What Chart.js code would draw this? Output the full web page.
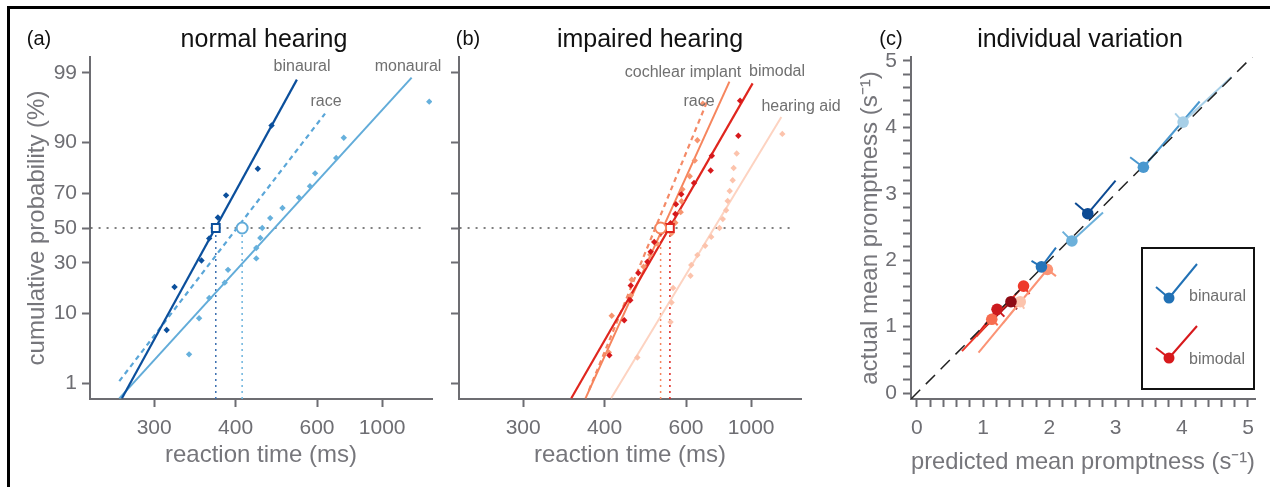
<!DOCTYPE html>
<html><head><meta charset="utf-8">
<script src="https://cdn.jsdelivr.net/npm/chart.js@4.4.1/dist/chart.umd.min.js"></script>
<style>
html,body{margin:0;padding:0;background:#fff;width:1270px;height:487px;overflow:hidden;font-family:"Liberation Sans",Arial,sans-serif;}
#frame{position:absolute;left:7px;top:6px;width:1300px;height:600px;border-left:3px solid #000;border-top:3px solid #000;box-sizing:border-box;}
canvas{position:absolute;left:0;top:0;}
.t{position:absolute;white-space:nowrap;line-height:1;transform:translate(-50%,-50%);}
.pl{font-size:20px;color:#111;}
.ti{font-size:25px;color:#111;}
.lb{font-size:16px;color:#707070;}
#legbox{position:absolute;left:1141px;top:247px;width:114px;height:143px;border:2.5px solid #111;box-sizing:border-box;}
.lt{position:absolute;font-size:16px;color:#6f6f6f;white-space:nowrap;line-height:1;transform:translateY(-50%);}
</style>
</head><body>
<div id="frame"></div>
<canvas id="ca" width="1270" height="487"></canvas>
<canvas id="cb" width="1270" height="487"></canvas>
<canvas id="cc" width="1270" height="487"></canvas>

<div class="t pl" style="left:39px;top:38px">(a)</div>
<div class="t ti" style="left:264px;top:38px">normal hearing</div>
<div class="t pl" style="left:468px;top:38px">(b)</div>
<div class="t ti" style="left:650px;top:38px">impaired hearing</div>
<div class="t pl" style="left:891px;top:38px">(c)</div>
<div class="t ti" style="left:1080px;top:38px">individual variation</div>

<div class="t lb" style="left:302px;top:66px">binaural</div>
<div class="t lb" style="left:408px;top:66px">monaural</div>
<div class="t lb" style="left:326px;top:101px">race</div>
<div class="t lb" style="left:683px;top:72px">cochlear implant</div>
<div class="t lb" style="left:777px;top:71px">bimodal</div>
<div class="t lb" style="left:699px;top:101px">race</div>
<div class="t lb" style="left:801px;top:106px">hearing aid</div>

<div id="legbox"></div>
<svg width="1270" height="487" style="position:absolute;left:0;top:0;pointer-events:none">
  <line x1="1169" y1="298" x2="1156" y2="287" stroke="#2171b5" stroke-width="2"/>
  <line x1="1169" y1="298" x2="1197" y2="264" stroke="#2171b5" stroke-width="2"/>
  <circle cx="1169" cy="298" r="5.5" fill="#2171b5"/>
  <line x1="1169" y1="358" x2="1156" y2="348" stroke="#d7191c" stroke-width="2"/>
  <line x1="1169" y1="358" x2="1197" y2="326" stroke="#d7191c" stroke-width="2"/>
  <circle cx="1169" cy="358" r="5.5" fill="#d7191c"/>
</svg>
<div class="lt" style="left:1189px;top:296px">binaural</div>
<div class="lt" style="left:1189px;top:359px">bimodal</div>

<script>
// ---------------- DATA ----------------
// tick labels
const rtTicks = [300, 400, 600, 1000];            // ms
const pctTicks = [1, 10, 30, 50, 70, 90, 99];       // %
const promptTicks = [0, 0.2, 0.4, 0.6, 0.8, 1, 1.2, 1.4, 1.6, 1.8, 2, 2.2, 2.4, 2.6, 2.8, 3, 3.2, 3.4, 3.6, 3.8, 4, 4.2, 4.4, 4.6, 4.8, 5];

// (a) normal hearing: reaction times (ms) and cumulative probabilities (%)
const binauralRT  = [312, 320, 351, 361, 373, 385, 440, 469];
const binauralPct = [6.3, 18.8, 31.3, 43.8, 56.3, 68.8, 81.3, 93.8];
const monauralRT  = [336, 348, 361, 383, 388, 437, 437, 445, 449, 466, 495, 540, 575, 593, 680, 718, 1930];
const monauralPct = [2.9, 8.8, 14.7, 20.6, 26.5, 32.4, 38.2, 44.1, 50, 55.9, 61.8, 67.6, 73.5, 79.4, 85.3, 91.2, 97.1];
const binauralFitRT = [273, 534],  binauralFitPct = [0.53, 98.7];
const monauralFitRT = [271, 1432], monauralFitPct = [0.53, 98.8];
const raceA_RT = [271, 631],       raceA_Pct = [1.08, 95.7];
const binauralMedianRT = 370, raceAMedianRT = 411;

// (b) impaired hearing
const bimodalRT  = [408, 435, 447, 448, 464, 485, 493, 502, 520, 548, 563, 565, 583, 631, 707, 713, 884, 898];
const bimodalPct = [2.8, 8.3, 13.9, 19.4, 25.0, 30.6, 36.1, 41.7, 47.2, 52.8, 58.3, 63.9, 69.4, 75.0, 80.6, 86.1, 91.7, 97.2];
const ciRT  = [407, 412, 448, 450, 476, 492, 510, 551, 563, 581, 584, 587, 614, 634, 645, 669];
const ciPct = [3.1, 9.4, 15.6, 21.9, 28.1, 34.4, 40.6, 46.9, 53.1, 59.4, 65.6, 71.9, 78.1, 84.4, 90.6, 96.9];
const haRT  = [462, 548, 551, 556, 617, 620, 645, 680, 710, 755, 775, 796, 806, 820, 841, 848, 871, 1468];
const haPct = [2.6, 7.9, 13.2, 18.4, 23.7, 28.9, 34.2, 39.5, 44.7, 50, 55.3, 60.5, 65.8, 71.1, 76.3, 81.6, 86.8, 92.1];
const bimodalFitRT = [352, 1015], bimodalFitPct = [0.53, 98.5];
const ciFitRT = [371, 818],       ciFitPct = [0.53, 98.6];
const raceB_RT = [376, 693],      raceB_Pct = [0.75, 97.3];
const haFitRT = [411, 1447],      haFitPct = [0.53, 95.2];
const bimodalMedianRT = 546, raceBMedianRT = 519;
const refRT = [251, 1800], refPct = 50;

// (c) individual variation: predicted vs actual mean promptness (1/s)
const cPredicted = [4.02, 3.42, 2.58, 2.34, 1.88, 1.97, 1.61, 1.42, 1.56, 1.21, 1.13];
const cActual    = [4.08, 3.40, 2.70, 2.29, 1.90, 1.86, 1.61, 1.375, 1.375, 1.26, 1.11];
const cArmX      = [3.90, 3.22, 2.39, 2.20, 1.73, 2.10, 1.70, 1.51, 1.62, 1.32, 1.22];
const cArmY      = [4.21, 3.55, 2.86, 2.43, 1.99, 1.76, 1.49, 1.26, 1.27, 1.15, 1.02];
const cLineX     = [4.75, 4.27, 3.00, 2.81, 2.10, 0.93, 0.68, 0.83, 1.30, 0.95, 0.90];
const cLineY     = [4.76, 4.39, 3.20, 2.72, 2.19, 0.61, 0.63, 0.80, 1.05, 0.93, 0.85];
const diagonal   = [-0.09, 5.12];

// ---------------- STYLE ----------------
const cColors = ['#a7cfe7', '#4a98cf', '#0c4a93', '#6cb0da', '#2474ba', '#fb9375', '#ee3a2b', '#8e0b14', '#fcc4ad', '#cc1a1e', '#f76c4f'];
const AX = '#6d6d72', TXT = '#6e6e73', TITLE = '#76767b';
Chart.defaults.font.family = '"Liberation Sans", Arial, sans-serif';
Chart.defaults.animation = false;

// ---------------- HELPERS ----------------
function probit(p){
  const a=[-3.969683028665376e+01,2.209460984245205e+02,-2.759285104469687e+02,1.383577518672690e+02,-3.066479806614716e+01,2.506628277459239e+00];
  const b=[-5.447609879822406e+01,1.615858368580409e+02,-1.556989798598866e+02,6.680131188771972e+01,-1.328068155288572e+01];
  const c=[-7.784894002430293e-03,-3.223964580411365e-01,-2.400758277161838e+00,-2.549732539343734e+00,4.374664141464968e+00,2.938163982698783e+00];
  const d=[7.784695709041462e-03,3.224671290700398e-01,2.445134137142996e+00,3.754408661907416e+00];
  const pl=0.02425, ph=1-pl; let q,r;
  if(p<pl){q=Math.sqrt(-2*Math.log(p));return (((((c[0]*q+c[1])*q+c[2])*q+c[3])*q+c[4])*q+c[5])/((((d[0]*q+d[1])*q+d[2])*q+d[3])*q+1);}
  if(p<=ph){q=p-0.5;r=q*q;return (((((a[0]*r+a[1])*r+a[2])*r+a[3])*r+a[4])*r+a[5])*q/(((((b[0]*r+b[1])*r+b[2])*r+b[3])*r+b[4])*r+1);}
  q=Math.sqrt(-2*Math.log(1-p));return -(((((c[0]*q+c[1])*q+c[2])*q+c[3])*q+c[4])*q+c[5])/((((d[0]*q+d[1])*q+d[2])*q+d[3])*q+1);
}
const tx = rt => -1000/rt;          // reciprocal (promptness) axis
const ty = pct => probit(pct/100);  // probit axis
const Y_LIM = 2.566, X_MIN = -3.99, X_MAX = -0.49;
const pts = (rts, pcts) => rts.map((r,i)=>({x:tx(r), y:ty(Array.isArray(pcts)?pcts[i]:pcts)}));

function scat(data, color, order){
  return {data, showLine:false, pointStyle:'rectRot', pointRadius:3.2, pointBorderWidth:0, pointBackgroundColor:color, borderColor:color, order};
}
function ln(data, color, width, dash, order){
  return {data, showLine:true, pointRadius:0, borderColor:color, borderWidth:width, borderDash:dash||[], fill:false, order, tension:0};
}
function marker(data, color, style, order){
  return {data, showLine:false, pointStyle:style, pointRadius:5.5, pointBorderWidth:2, pointBackgroundColor:'#fff', pointBorderColor:color, order};
}
const gridOpts = {display:true, drawOnChartArea:false, drawTicks:true, tickLength:8, tickColor:AX, tickWidth:2};
const borderOpts = {display:true, color:AX, width:2};

function rtScale(){
  return {
    type:'linear', min:X_MIN, max:X_MAX,
    afterBuildTicks: s => { s.ticks = rtTicks.map(v=>({value:tx(v)})); },
    ticks:{autoSkip:false, maxRotation:0, padding:9, color:TXT, font:{size:21}, callback:(v,i)=>rtTicks[i]},
    grid:gridOpts, border:borderOpts,
    title:{display:true, text:'reaction time (ms)', color:TITLE, font:{size:24}, padding:{top:0,bottom:17}},
    afterFit: s => { s.height = 88; }
  };
}
function pScale(labels, width, titlePad){
  return {
    type:'linear', min:-Y_LIM, max:Y_LIM,
    afterBuildTicks: s => { s.ticks = pctTicks.map(v=>({value:ty(v)})); },
    ticks:{autoSkip:false, padding:5, color:TXT, font:{size:21}, callback:(v,i)=> labels ? pctTicks[i] : ''},
    grid:gridOpts, border:borderOpts,
    title:{display:labels, text:'cumulative probability (%)', color:TITLE, font:{size:24}, padding:{top:titlePad,bottom:0}},
    afterFit: s => { s.width = width; }
  };
}
const baseOpts = (pad, scales) => ({
  responsive:false, animation:false,
  layout:{padding:pad, autoPadding:false},
  plugins:{legend:{display:false}, tooltip:{enabled:false}},
  scales
});

// ---------------- PANEL (a) ----------------
new Chart(document.getElementById('ca'), {
  type:'scatter',
  data:{datasets:[
    marker([{x:tx(binauralMedianRT), y:ty(50)}], '#0b4f9c', 'rect', 0),
    marker([{x:tx(raceAMedianRT), y:ty(50)}], '#62acd9', 'circle', 0),
    scat(pts(binauralRT, binauralPct), '#0b4f9c', 1),
    scat(pts(monauralRT, monauralPct), '#66b0dc', 1),
    ln(pts(binauralFitRT, binauralFitPct), '#0b4f9c', 2.2, [], 2),
    ln(pts(monauralFitRT, monauralFitPct), '#62acd9', 2, [], 2),
    ln(pts(raceA_RT, raceA_Pct), '#5aa6d8', 2.2, [5,4], 2),
    ln([{x:tx(binauralMedianRT), y:-Y_LIM},{x:tx(binauralMedianRT), y:ty(50)}], '#3a6fb0', 1.5, [2,4], 3),
    ln([{x:tx(raceAMedianRT), y:-Y_LIM},{x:tx(raceAMedianRT), y:ty(50)}], '#6cb4de', 1.5, [2,4], 3),
    ln(pts(refRT, refPct), '#555', 1.5, [2,6], 3)
  ]},
  options: baseOpts({left:0, right:1270-432, top:57, bottom:0}, {
    x: rtScale(), y: pScale(true, 90, 22.6)
  })
});

// ---------------- PANEL (b) ----------------
new Chart(document.getElementById('cb'), {
  type:'scatter',
  data:{datasets:[
    marker([{x:tx(raceBMedianRT), y:ty(50)}], '#f6855d', 'circle', 0),
    marker([{x:tx(bimodalMedianRT), y:ty(50)}], '#e0261e', 'rect', 0),
    scat(pts(bimodalRT, bimodalPct), '#d7191c', 1),
    scat(pts(ciRT, ciPct), '#f7946f', 1.1),
    scat(pts(haRT, haPct), '#fcc3ac', 1.2),
    ln(pts(bimodalFitRT, bimodalFitPct), '#e0261e', 2.2, [], 2),
    ln(pts(ciFitRT, ciFitPct), '#f6855d', 2, [], 2),
    ln(pts(raceB_RT, raceB_Pct), '#f48a67', 2.2, [5,4], 2),
    ln(pts(haFitRT, haFitPct), '#fdd3c1', 2, [], 2.1),
    ln([{x:tx(raceBMedianRT), y:-Y_LIM},{x:tx(raceBMedianRT), y:ty(50)}], '#f6855d', 1.5, [2,4], 3),
    ln([{x:tx(bimodalMedianRT), y:-Y_LIM},{x:tx(bimodalMedianRT), y:ty(50)}], '#e0261e', 1.5, [2,4], 3),
    ln(pts(refRT, refPct), '#555', 1.5, [2,6], 3)
  ]},
  options: baseOpts({left:440, right:1270-801, top:57, bottom:0}, {
    x: rtScale(), y: pScale(false, 19, 0)
  })
});

// ---------------- PANEL (c) ----------------
const cDatasets = [];
cPredicted.forEach((px,i)=>{
  cDatasets.push({data:[{x:px, y:cActual[i]}], showLine:false, pointStyle:'circle', pointRadius:5.8, pointBorderWidth:0, pointBackgroundColor:cColors[i], order:0});
  cDatasets.push(ln([{x:px, y:cActual[i]},{x:cArmX[i], y:cArmY[i]}], cColors[i], 2, [], 2));
  cDatasets.push(ln([{x:px, y:cActual[i]},{x:cLineX[i], y:cLineY[i]}], cColors[i], 2, [], 2));
});
cDatasets.push(ln([{x:diagonal[0], y:diagonal[0]},{x:diagonal[1], y:diagonal[1]}], '#222', 1.5, [13,8], 1));

function promptScale(title, isY){
  const s = {
    type:'linear', min:-0.09, max:isY?5.06:5.106,
    afterBuildTicks: sc => { sc.ticks = promptTicks.map(v=>({value:v})); },
    ticks:{autoSkip:false, maxRotation:0, padding:isY?6:9, color:TXT, font:{size:21}, callback:(v)=> Math.abs(v-Math.round(v))<1e-6 ? String(Math.round(v)) : ''},
    grid:gridOpts, border:borderOpts,
    title:{display:true, text:title, color:TITLE, font:{size:24}, padding: isY?{top:5.6,bottom:0}:{top:0,bottom:10.6}}
  };
  if(isY) s.afterFit = sc => { sc.width = 61; }; else s.afterFit = sc => { sc.height = 88; };
  return s;
}
new Chart(document.getElementById('cc'), {
  type:'scatter',
  data:{datasets:cDatasets},
  options: baseOpts({left:850, right:1270-1255, top:57, bottom:0}, {
    x: promptScale('predicted mean promptness (s\u207B\u00B9)', false),
    y: promptScale('actual mean promptness (s\u207B\u00B9)', true)
  })
});
</script>
</body></html>
